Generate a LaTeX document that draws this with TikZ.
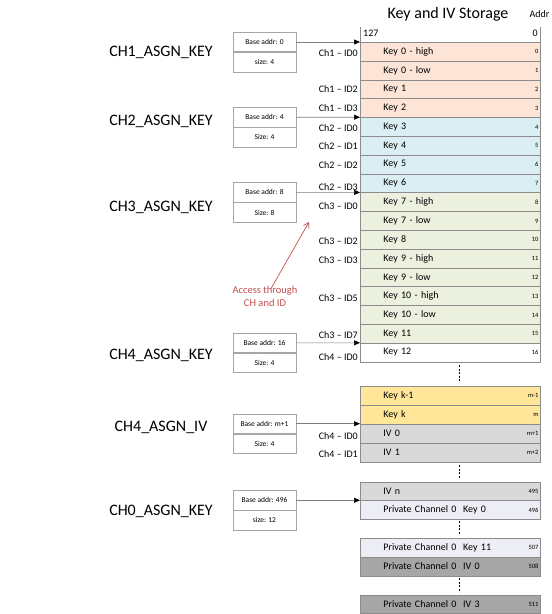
\documentclass[tikz,border=0pt]{standalone}
\usepackage{fontspec}
\setmainfont{Carlito}
\usetikzlibrary{arrows.meta}
\definecolor{peach}{HTML}{FCE4D6}
\definecolor{lblue}{HTML}{DAEEF3}
\definecolor{lgreen}{HTML}{EBF1DE}
\definecolor{lyellow}{HTML}{FFE699}
\definecolor{lgray}{HTML}{D9D9D9}
\definecolor{lav}{HTML}{EDEDF5}
\definecolor{dgray}{HTML}{A6A6A6}
\definecolor{sepline}{HTML}{8C8C8C}
\definecolor{boxline}{HTML}{A6A6A6}
\definecolor{connline}{HTML}{7F7F7F}
\definecolor{accred}{HTML}{C0504D}
\begin{document}
\begin{tikzpicture}[x=1pt,y=-1pt,
  cell/.style={draw=sepline, line width=0.7pt, anchor=north west, minimum width=180pt,
    minimum height=18.8pt, text width=134pt, inner xsep=23pt, inner ysep=0pt, align=left,
    font=\fontsize{10}{11}\selectfont},
  addrlbl/.style={anchor=east, inner sep=0pt, font=\fontsize{6.5}{7}\selectfont},
  half/.style={draw=boxline, line width=0.6pt, minimum width=63pt, minimum height=19.5pt,
    inner sep=0pt, font=\fontsize{7.5}{8}\selectfont},
  chlbl/.style={anchor=east, inner sep=0pt, font=\fontsize{10}{11}\selectfont},
  asgn/.style={inner sep=0pt, font=\fontsize{16}{18}\selectfont},
  conn/.style={draw=connline, line width=0.6pt, -{Triangle[length=6pt,width=5pt,color=black]}},
  dots/.style={draw=black, line width=0.6pt, dash pattern=on 2pt off 1.5pt},
  redarrow/.style={draw=accred, line width=0.7pt, -{Straight Barb[length=5pt,width=6pt]}}
]
\useasboundingbox[fill=white] (0,0) rectangle (552,614);

% header
\node[inner sep=0pt, font=\fontsize{16}{18}\selectfont] (title) at (448,14) {Key and IV Storage};
\node[inner sep=0pt, font=\fontsize{10}{11}\selectfont] (addrh) at (539.5,14) {Addr};
\node[inner sep=0pt, anchor=west, font=\fontsize{10}{11}\selectfont] (msb) at (363,33) {127};
\node[inner sep=0pt, anchor=east, font=\fontsize{10}{11}\selectfont] (lsb) at (538,33) {0};
\draw[sepline, line width=0.7pt] (360,27) -- (360,42);
\draw[sepline, line width=0.7pt] (540,27) -- (540,42);

% block 1
\foreach \i/\t/\c in {0/Key 0 - high/peach, 1/Key 0 - low/peach, 2/Key 1/peach, 3/Key 2/peach,
  4/Key 3/lblue, 5/Key 4/lblue, 6/Key 5/lblue, 7/Key 6/lblue,
  8/Key 7 - high/lgreen, 9/Key 7 - low/lgreen, 10/Key 8/lgreen, 11/Key 9 - high/lgreen,
  12/Key 9 - low/lgreen, 13/Key 10 - high/lgreen, 14/Key 10 - low/lgreen, 15/Key 11/lgreen,
  16/Key 12/white} {
  \node[cell, fill=\c] (r\i) at (360,42+18.8*\i) {\t};
  \node[addrlbl] (a\i) at ([xshift=-2pt]r\i.east) {\i};
}

% block 2
\node[cell, fill=lyellow, minimum height=19pt] (kk1) at (360,385.7) {Key k-1};
\node[cell, fill=lyellow, minimum height=19pt] (kk) at (360,404.7) {Key k};
\node[cell, fill=lgray, minimum height=19pt] (iv0) at (360,423.7) {IV 0};
\node[cell, fill=lgray, minimum height=19pt] (iv1) at (360,442.7) {IV 1};
\node[addrlbl] (akk1) at ([xshift=-2pt]kk1.east) {m-1};
\node[addrlbl] (akk) at ([xshift=-2pt]kk.east) {m};
\node[addrlbl] (aiv0) at ([xshift=-2pt]iv0.east) {m+1};
\node[addrlbl] (aiv1) at ([xshift=-2pt]iv1.east) {m+2};

% block 3
\node[cell, fill=lgray] (ivn) at (360,481.5) {IV n};
\node[cell, fill=lav] (pk0) at (360,500.3) {Private Channel 0\ \ Key 0};
\node[addrlbl] (aivn) at ([xshift=-2pt]ivn.east) {495};
\node[addrlbl] (apk0) at ([xshift=-2pt]pk0.east) {496};

% block 4
\node[cell, fill=lav] (pk11) at (360,538) {Private Channel 0\ \ Key 11};
\node[cell, fill=dgray] (piv0) at (360,556.8) {Private Channel 0\ \ IV 0};
\node[addrlbl] (apk11) at ([xshift=-2pt]pk11.east) {507};
\node[addrlbl] (apiv0) at ([xshift=-2pt]piv0.east) {508};

% block 5
\node[cell, fill=dgray] (piv3) at (360,594.5) {Private Channel 0\ \ IV 3};
\node[addrlbl] (apiv3) at ([xshift=-2pt]piv3.east) {511};

% dotted continuations
\draw[dots] (459,365) -- (459,381);
\draw[dots] (459,465) -- (459,479);
\draw[dots] (459,521) -- (459,535);
\draw[dots] (459,578) -- (459,592);

% channel/ID labels
\foreach \n/\t/\y in {l1/Ch1 – ID0/53, l2/Ch1 – ID2/89, l3/Ch1 – ID3/108,
  l4/Ch2 – ID0/128, l5/Ch2 – ID1/146, l6/Ch2 – ID2/165, l7/Ch2 – ID3/187,
  l8/Ch3 – ID0/206, l9/Ch3 – ID2/241, l10/Ch3 – ID3/260, l11/Ch3 – ID5/298,
  l12/Ch3 – ID7/335, l13/Ch4 – ID0/357, l14/Ch4 – ID0/436, l15/Ch4 – ID1/454} {
  \node[chlbl] (\n) at (358,\y) {\t};
}

% assignment boxes
\foreach \n/\y/\ta/\tb in {b1/42/Base addr: 0/size: 4, b2/117.2/Base addr: 4/Size: 4,
  b3/192.4/Base addr: 8/Size: 8, b4/342.8/Base addr: 16/Size: 4,
  b5/423.7/Base addr: m+1/Size: 4, b6/500.3/Base addr: 496/size: 12} {
  \node[half] (\n t) at (264.5,\y) {\ta};
  \node[half, anchor=north] (\n b) at (\n t.south) {\tb};
}

% left labels
\node[asgn] (c1) at (161,52) {CH1\_ASGN\_KEY};
\node[asgn] (c2) at (161,121) {CH2\_ASGN\_KEY};
\node[asgn] (c3) at (161,207) {CH3\_ASGN\_KEY};
\node[asgn] (c4) at (161,355) {CH4\_ASGN\_KEY};
\node[asgn] (c5) at (161,427) {CH4\_ASGN\_IV};
\node[asgn] (c6) at (161,511) {CH0\_ASGN\_KEY};

% connectors
\draw[conn] (b1t.east) -- (r0.north west);
\draw[conn] (b2t.east) -- (r4.north west);
\draw[conn] (b3t.east) -- (r8.north west);
\draw[conn] (b4t.east) -- (r16.north west);
\draw[conn] (b5t.east) -- (iv0.north west);
\draw[conn] (b6t.east) -- (pk0.north west);

% access annotation
\node[align=center, inner sep=0pt, text=accred, font=\fontsize{10.5}{13}\selectfont] (acc) at (265,296) {Access through\\CH and ID};
\coordinate (acchead) at (309,222);
\draw[redarrow] ([xshift=6pt,yshift=-3pt]acc.north) -- (acchead);
\end{tikzpicture}
\end{document}
